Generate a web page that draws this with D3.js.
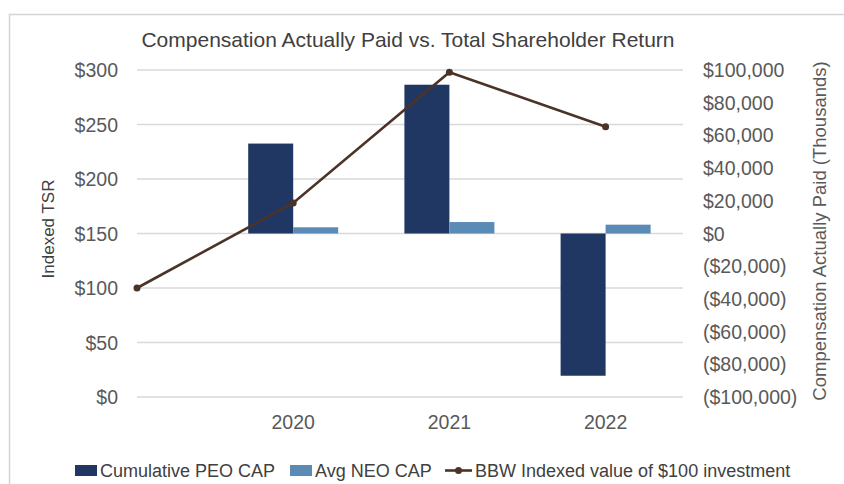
<!DOCTYPE html>
<html>
<head>
<meta charset="utf-8">
<script src="https://cdn.jsdelivr.net/npm/d3@7"></script>
<style>
    body { margin: 0; background: #ffffff; }
    .tick-text { font-family: "Liberation Sans", Arial, sans-serif; font-size: 19.5px; fill: #595959; }
    .axis-label { font-family: "Liberation Sans", Arial, sans-serif; fill: #595959; }
    .legend-text { font-family: "Liberation Sans", Arial, sans-serif; font-size: 18px; fill: #404040; }
    .grid-line { stroke: #d9d9d9; stroke-width: 1.5; }
    .tsr-line { fill: none; stroke: #4b3328; stroke-width: 2.6; }
</style>
</head>
<body>
<div id="chart"></div>
<script>
var categories = ["2019", "2020", "2021", "2022"]
var xTickLabels = ["", "2020", "2021", "2022"]
var peoCap = [null, 55000, 91000, -87000]
var neoCap = [null, 3800, 7000, 5400]
var tsrValues = [100, 178, 298, 248]
var leftTicks = [0, 50, 100, 150, 200, 250, 300]
var rightTicks = [-100000, -80000, -60000, -40000, -20000, 0, 20000, 40000, 60000, 80000, 100000]

var defaultWidth = 844
var defaultHeight = 484

var plot = {
    left: 137,
    right: 683,
    top: 70,
    bottom: 397
}

var svg = d3.select("#chart")
    .append("svg")
        .attr("width", defaultWidth)
        .attr("height", defaultHeight)

// outer frame, only top and left edges show in the picture
svg.append("rect")
    .attr("x", 9.5)
    .attr("y", 14.5)
    .attr("width", 1000)
    .attr("height", 1000)
    .attr("fill", "none")
    .attr("stroke", "#d4d4d4")
    .attr("stroke-width", 1.5)

var step = 156.2
var x = d3.scalePoint()
    .domain(categories)
    .range([plot.left, plot.left + step * (categories.length - 1)])

var yLeft = d3.scaleLinear()
    .domain([0, 300])
    .range([plot.bottom, plot.top])

var yRight = d3.scaleLinear()
    .domain([-100000, 100000])
    .range([plot.bottom, plot.top])

var fmtLeft = d3.format("$,.0f")
function fmtRight(v){
    if (v < 0) return "(" + d3.format("$,.0f")(-v) + ")"
    return d3.format("$,.0f")(v)
}

// gridlines
svg.append("g")
    .selectAll("line")
    .data(leftTicks)
    .enter()
    .append("line")
        .attr("class", "grid-line")
        .attr("x1", plot.left)
        .attr("x2", plot.right)
        .attr("y1", d => yLeft(d))
        .attr("y2", d => yLeft(d))

// left axis labels
svg.append("g")
    .selectAll("text")
    .data(leftTicks)
    .enter()
    .append("text")
        .attr("class", "tick-text")
        .attr("x", 118)
        .attr("y", d => yLeft(d))
        .attr("dy", "0.36em")
        .attr("text-anchor", "end")
        .text(d => fmtLeft(d))

// right axis labels
svg.append("g")
    .selectAll("text")
    .data(rightTicks)
    .enter()
    .append("text")
        .attr("class", "tick-text")
        .attr("x", 703)
        .attr("y", d => yRight(d))
        .attr("dy", "0.36em")
        .text(d => fmtRight(d))

// x labels
svg.append("g")
    .selectAll("text")
    .data(categories)
    .enter()
    .append("text")
        .attr("class", "tick-text")
        .attr("x", d => x(d))
        .attr("y", 429)
        .attr("text-anchor", "middle")
        .text((d, i) => xTickLabels[i])

// title and axis titles
svg.append("text")
    .attr("class", "axis-label")
    .attr("x", 408)
    .attr("y", 47)
    .attr("text-anchor", "middle")
    .style("font-size", "21px")
    .style("fill", "#404040")
    .text("Compensation Actually Paid vs. Total Shareholder Return")

svg.append("text")
    .attr("class", "axis-label")
    .attr("transform", "translate(54,229) rotate(-90)")
    .attr("text-anchor", "middle")
    .style("font-size", "17px")
    .style("fill", "#404040")
    .text("Indexed TSR")

svg.append("text")
    .attr("class", "tick-text")
    .attr("transform", "translate(826,231) rotate(-90)")
    .attr("text-anchor", "middle")
    .style("font-size", "18.5px")
    .text("Compensation Actually Paid (Thousands)")

// bars
var barW = 45
var chart = svg.append("g")

var barData = categories.map((c, i) => ({cat: c, peo: peoCap[i], neo: neoCap[i]}))
    .filter(d => d.peo != null)

chart.selectAll(".peo")
    .data(barData)
    .enter()
    .append("rect")
        .attr("class", "peo")
        .attr("x", d => x(d.cat) - barW)
        .attr("y", d => yRight(Math.max(0, d.peo)))
        .attr("width", barW)
        .attr("height", d => Math.abs(yRight(d.peo) - yRight(0)))
        .attr("fill", "#203764")

chart.selectAll(".neo")
    .data(barData)
    .enter()
    .append("rect")
        .attr("class", "neo")
        .attr("x", d => x(d.cat))
        .attr("y", d => yRight(Math.max(0, d.neo)))
        .attr("width", barW)
        .attr("height", d => Math.abs(yRight(d.neo) - yRight(0)))
        .attr("fill", "#5a8ab6")

// TSR line
var lineData = categories.map((c, i) => ({cat: c, v: tsrValues[i]}))

chart.append("path")
    .datum(lineData)
    .attr("class", "tsr-line")
    .attr("d", d3.line()
        .x(d => x(d.cat))
        .y(d => yLeft(d.v)))

chart.selectAll(".tsr-dot")
    .data(lineData)
    .enter()
    .append("circle")
        .attr("class", "tsr-dot")
        .attr("cx", d => x(d.cat))
        .attr("cy", d => yLeft(d.v))
        .attr("r", 3.5)
        .attr("fill", "#4b3328")

// legend
var legend = svg.append("g")
var legY = 470.5

legend.append("rect")
    .attr("x", 75).attr("y", legY - 5.5)
    .attr("width", 22).attr("height", 11)
    .attr("fill", "#203764")
legend.append("text")
    .attr("class", "legend-text")
    .attr("x", 100).attr("y", legY)
    .attr("dy", "0.36em")
    .text("Cumulative PEO CAP")

legend.append("rect")
    .attr("x", 290).attr("y", legY - 5.5)
    .attr("width", 22).attr("height", 11)
    .attr("fill", "#5a8ab6")
legend.append("text")
    .attr("class", "legend-text")
    .attr("x", 315).attr("y", legY)
    .attr("dy", "0.36em")
    .text("Avg NEO CAP")

legend.append("line")
    .attr("x1", 445).attr("x2", 472)
    .attr("y1", legY).attr("y2", legY)
    .attr("class", "tsr-line")
legend.append("circle")
    .attr("cx", 458.5).attr("cy", legY)
    .attr("r", 3.5)
    .attr("fill", "#4b3328")
legend.append("text")
    .attr("class", "legend-text")
    .attr("x", 475).attr("y", legY)
    .attr("dy", "0.36em")
    .text("BBW Indexed value of $100 investment")
</script>
</body>
</html>
